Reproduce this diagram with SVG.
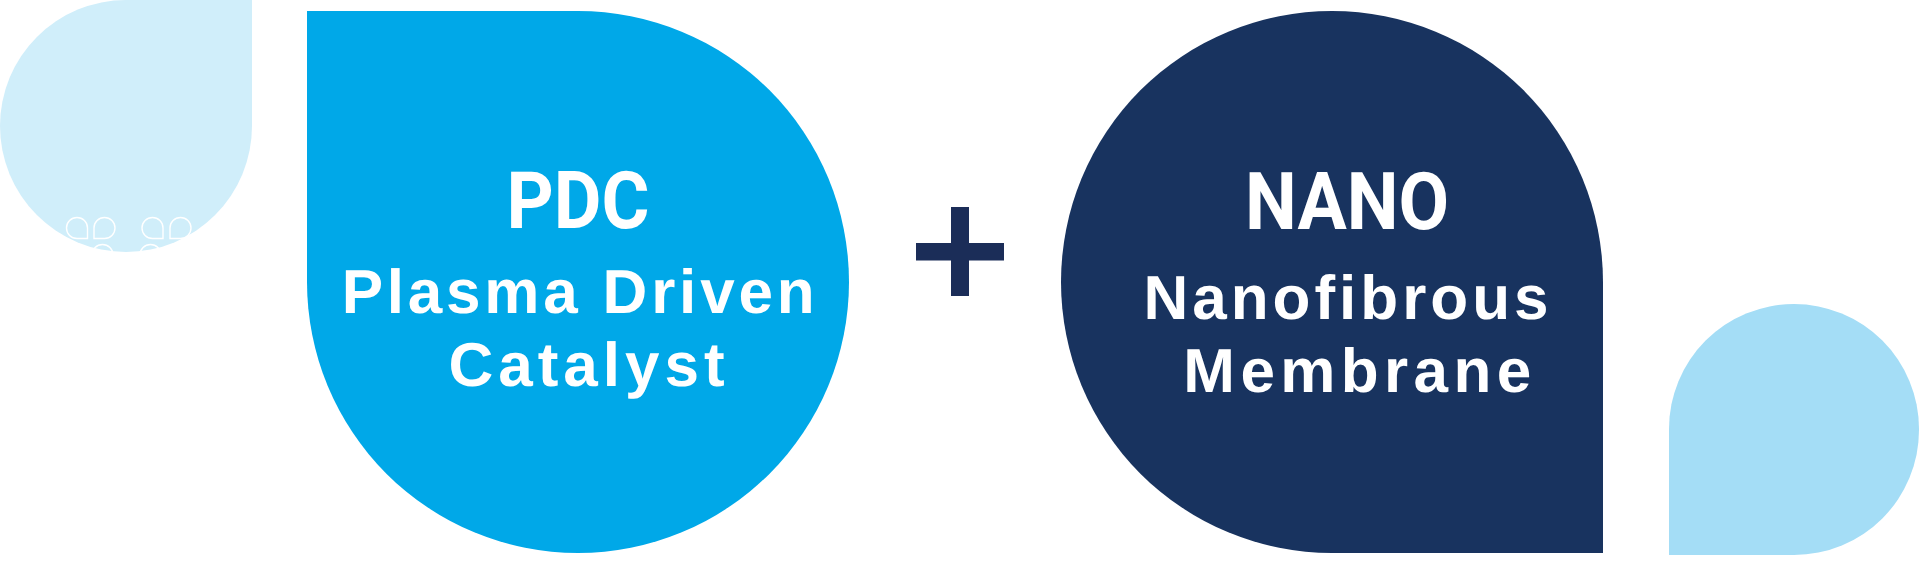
<svg xmlns="http://www.w3.org/2000/svg" width="1920" height="566" viewBox="0 0 1920 566">
  <style>
    .title { font-family: Roboto, "Liberation Sans", Arial, sans-serif; font-weight: 700; font-size: 79px; fill: #ffffff; text-anchor: middle; }
    .sub { font-family: "Liberation Sans", Arial, sans-serif; font-weight: 700; font-size: 62px; fill: #ffffff; text-anchor: middle; text-rendering: geometricPrecision; }
    .icon { fill: none; stroke: #ffffff; stroke-width: 1.4; }
  </style>
  <rect width="1920" height="566" fill="#ffffff"/>

  <g id="deco-top-left">
    <path d="M126,0 H252 V126 A126,126 0 0 1 126,252 A126,126 0 0 1 0,126 A126,126 0 0 1 126,0 Z" fill="#D0EEFA"/>
    <g id="deco-icons">
      <path class="icon" d="M66.5,228 A10.5,10.5 0 0 1 77,217.5 A10.5,10.5 0 0 1 87.5,228 V238.5 H77 A10.5,10.5 0 0 1 66.5,228 Z"/>
      <path class="icon" d="M94,238.5 V228 A10.5,10.5 0 0 1 104.5,217.5 A10.5,10.5 0 0 1 115,228 A10.5,10.5 0 0 1 104.5,238.5 Z"/>
      <path class="icon" d="M142,228 A10.5,10.5 0 0 1 152.5,217.5 A10.5,10.5 0 0 1 163,228 V238.5 H152.5 A10.5,10.5 0 0 1 142,228 Z"/>
      <path class="icon" d="M170,238.5 V228 A10.5,10.5 0 0 1 180.5,217.5 A10.5,10.5 0 0 1 191,228 A10.5,10.5 0 0 1 180.5,238.5 Z"/>
      <path class="icon" d="M92,255 A10.5,10.5 0 0 1 102.5,244.5 A10.5,10.5 0 0 1 113,255 V265.5 H102.5 A10.5,10.5 0 0 1 92,255 Z"/>
      <path class="icon" d="M140,265.5 V255 A10.5,10.5 0 0 1 150.5,244.5 A10.5,10.5 0 0 1 161,255 A10.5,10.5 0 0 1 150.5,265.5 Z"/>
    </g>
  </g>

  <g id="node-pdc">
    <path d="M307,11 H578 A271,271 0 0 1 849,282 A271,271 0 0 1 578,553 A271,271 0 0 1 307,282 Z" fill="#00A8E8"/>
    <text class="title" x="578" y="228" textLength="143" lengthAdjust="spacingAndGlyphs">PDC</text>
    <text class="sub" x="580" y="313" letter-spacing="3.8">Plasma Driven</text>
    <text class="sub" x="589" y="386" letter-spacing="5">Catalyst</text>
  </g>

  <g id="connectors">
    <g id="plus" fill="#1B2D58">
      <rect x="916" y="243" width="88" height="17.5"/>
      <rect x="951" y="207" width="18" height="89"/>
    </g>
  </g>

  <g id="node-nano">
    <path d="M1332,11 A271,271 0 0 1 1603,282 V553 H1332 A271,271 0 0 1 1061,282 A271,271 0 0 1 1332,11 Z" fill="#18335F"/>
    <text class="title" x="1347" y="229" textLength="204" lengthAdjust="spacingAndGlyphs">NANO</text>
    <text class="sub" x="1348" y="319" letter-spacing="4">Nanofibrous</text>
    <text class="sub" x="1360" y="392" letter-spacing="5.4">Membrane</text>
  </g>

  <g id="deco-bottom-right">
    <path d="M1669,555 V429 A125,125 0 0 1 1794,304 A125,125 0 0 1 1919,429 V430 A125,125 0 0 1 1794,555 Z" fill="#A4DDF6"/>
  </g>
</svg>
